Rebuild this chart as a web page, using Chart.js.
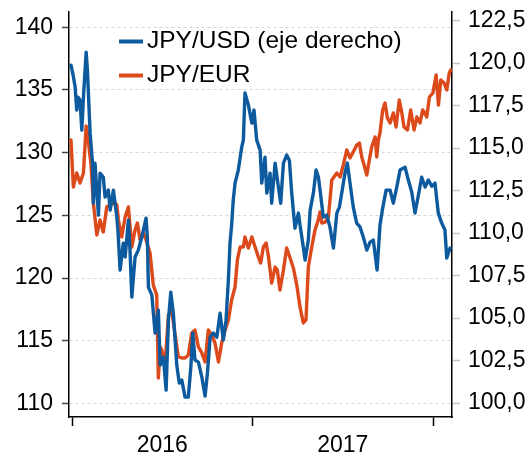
<!DOCTYPE html>
<html>
<head>
<meta charset="utf-8">
<script src="https://cdn.jsdelivr.net/npm/chart.js@4.4.1/dist/chart.umd.min.js"></script>
<style>
  body { margin: 0; background: #fff; }
</style>
</head>
<body>
<canvas id="fxChart" width="532" height="455"></canvas>
<script>
// fechas en años decimales
var usdDates = [2015.994, 2016.006, 2016.017, 2016.026, 2016.033, 2016.044, 2016.054, 2016.063, 2016.078, 2016.085,
	2016.100, 2016.115, 2016.118, 2016.127, 2016.146, 2016.155, 2016.173, 2016.183, 2016.201, 2016.211,
	2016.229, 2016.248, 2016.255, 2016.266, 2016.284, 2016.294, 2016.312, 2016.321, 2016.331, 2016.349,
	2016.367, 2016.386, 2016.410, 2016.417, 2016.423, 2016.442, 2016.460, 2016.478, 2016.488, 2016.506,
	2016.521, 2016.534, 2016.547, 2016.561, 2016.580, 2016.594, 2016.608, 2016.626, 2016.644, 2016.658,
	2016.669, 2016.681, 2016.700, 2016.719, 2016.737, 2016.750, 2016.765, 2016.783, 2016.802, 2016.820,
	2016.838, 2016.853, 2016.866, 2016.875, 2016.884, 2016.893, 2016.903, 2016.921, 2016.940, 2016.949,
	2016.958, 2016.977, 2016.996, 2017.008, 2017.023, 2017.042, 2017.051, 2017.069, 2017.079, 2017.097,
	2017.106, 2017.125, 2017.143, 2017.156, 2017.171, 2017.189, 2017.204, 2017.217, 2017.235, 2017.254,
	2017.263, 2017.281, 2017.291, 2017.309, 2017.319, 2017.337, 2017.352, 2017.365, 2017.374, 2017.384,
	2017.392, 2017.411, 2017.429, 2017.448, 2017.467, 2017.481, 2017.494, 2017.512, 2017.525, 2017.540,
	2017.558, 2017.577, 2017.596, 2017.614, 2017.633, 2017.651, 2017.669, 2017.690, 2017.706, 2017.721,
	2017.740, 2017.762, 2017.780, 2017.799, 2017.817, 2017.845, 2017.863, 2017.882, 2017.900, 2017.919,
	2017.937, 2017.956, 2017.974, 2017.993, 2018.011, 2018.021, 2018.029, 2018.048, 2018.066, 2018.076,
	2018.094];
var usdValues = [119.88, 119.29, 118.59, 117.24, 118.0, 117.82, 116.06, 118.0, 120.65, 119.59,
	115.88, 113.88, 111.76, 114.12, 111.06, 113.53, 113.29, 112.12, 112.53, 111.35,
	112.53, 110.94, 110.0, 107.82, 109.41, 108.59, 110.76, 109.0, 106.24, 108.59,
	109.0, 109.76, 110.88, 109.76, 106.82, 106.35, 104.12, 105.47, 102.24, 102.71,
	100.76, 104.88, 106.53, 105.29, 102.24, 101.18, 101.35, 100.35, 100.35, 102.12,
	104.12, 102.53, 102.41, 101.53, 100.41, 101.76, 103.88, 104.12, 103.88, 105.29,
	103.71, 104.88, 107.24, 109.41, 110.47, 111.94, 112.94, 113.71, 115.06, 115.47,
	118.24, 117.53, 116.47, 117.24, 115.47, 114.88, 112.94, 114.47, 112.35, 113.53,
	111.76, 114.12, 112.71, 111.76, 114.12, 114.59, 114.29, 112.35, 110.29, 111.18,
	110.47, 109.18, 108.41, 109.59, 111.35, 112.35, 113.71, 113.29, 112.53, 111.65,
	110.94, 111.06, 110.35, 109.12, 111.18, 111.53, 112.35, 113.53, 114.12, 112.94,
	111.53, 110.59, 110.35, 109.76, 109.0, 109.47, 109.59, 107.82, 110.47, 111.47,
	112.53, 112.53, 111.76, 112.71, 113.71, 113.88, 113.12, 112.41, 111.18, 112.24,
	113.29, 112.71, 113.12, 112.76, 112.94, 111.94, 111.18, 110.59, 110.18, 108.53,
	109.12];

var eurDates = [2015.994, 2016.007, 2016.026, 2016.044, 2016.063, 2016.078, 2016.085, 2016.104, 2016.118, 2016.137,
	2016.155, 2016.173, 2016.192, 2016.211, 2016.238, 2016.248, 2016.257, 2016.275, 2016.294, 2016.312,
	2016.331, 2016.349, 2016.362, 2016.377, 2016.395, 2016.410, 2016.432, 2016.450, 2016.469, 2016.478,
	2016.488, 2016.497, 2016.515, 2016.534, 2016.552, 2016.571, 2016.589, 2016.608, 2016.626, 2016.644,
	2016.663, 2016.681, 2016.700, 2016.719, 2016.737, 2016.755, 2016.774, 2016.792, 2016.811, 2016.829,
	2016.848, 2016.866, 2016.884, 2016.903, 2016.916, 2016.931, 2016.949, 2016.958, 2016.977, 2016.996,
	2017.014, 2017.032, 2017.045, 2017.060, 2017.075, 2017.087, 2017.106, 2017.125, 2017.137, 2017.152,
	2017.171, 2017.189, 2017.208, 2017.226, 2017.245, 2017.263, 2017.281, 2017.296, 2017.309, 2017.328,
	2017.346, 2017.364, 2017.374, 2017.384, 2017.402, 2017.420, 2017.429, 2017.439, 2017.467, 2017.485,
	2017.503, 2017.522, 2017.540, 2017.558, 2017.577, 2017.592, 2017.605, 2017.618, 2017.633, 2017.647,
	2017.660, 2017.679, 2017.688, 2017.697, 2017.706, 2017.721, 2017.734, 2017.747, 2017.762, 2017.780,
	2017.795, 2017.813, 2017.827, 2017.839, 2017.858, 2017.876, 2017.895, 2017.910, 2017.928, 2017.943,
	2017.965, 2017.980, 2017.999, 2018.017, 2018.030, 2018.043, 2018.061, 2018.076, 2018.090, 2018.098];
var eurValues = [131.01, 127.26, 128.38, 127.58, 128.38, 132.13, 131.57, 129.18, 125.99, 123.44,
	124.63, 123.68, 125.67, 125.83, 125.99, 125.83, 124.63, 123.28, 124.87, 125.67,
	122.48, 123.84, 124.39, 123.04, 123.60, 123.04, 122.0, 119.44, 118.65, 112.03,
	114.51, 114.27, 113.07, 117.06, 117.46, 115.46, 113.71, 113.63, 113.63, 113.87,
	115.62, 115.86, 114.51, 114.03, 113.31, 115.86, 115.46, 114.82, 113.31, 114.82,
	115.86, 116.66, 118.25, 119.29, 121.44, 122.48, 122.48, 123.28, 122.40, 123.28,
	122.48, 121.68, 121.20, 122.48, 122.80, 121.84, 119.61, 120.88, 120.65, 119.05,
	120.65, 122.40, 121.60, 120.81, 119.45, 117.70, 116.42, 116.66, 120.88, 122.48,
	123.84, 124.63, 125.27, 124.39, 124.47, 124.87, 126.23, 127.82, 128.38, 128.06,
	129.02, 130.22, 129.58, 130.06, 130.61, 130.77, 129.66, 129.02, 128.22, 129.42,
	130.45, 131.25, 129.66, 131.01, 131.57, 133.41, 133.96, 132.77, 132.37, 133.17,
	132.05, 134.20, 133.17, 132.05, 131.81, 133.41, 131.81, 132.85, 132.37, 133.41,
	132.85, 134.44, 134.76, 136.20, 133.80, 135.80, 135.56, 135.0, 136.36, 136.60];

var leftTicks = [110, 115, 120, 125, 130, 135, 140];
var rightTicks = [100, 102.5, 105, 107.5, 110, 112.5, 115, 117.5, 120, 122.5];
var yearTicks = [2016, 2016.5, 2017, 2017.5, 2018];
var yearLabels = { '2016.5': '2016', '2017.5': '2017' };

var fontFamily = '"Liberation Sans", Arial, sans-serif';
var tickFont = { family: fontFamily, size: 23 };

function toPoints(dates, values) {
	var pts = [];
	for (var i in dates) {
		pts.push({ x: dates[i], y: values[i] });
	}
	return pts;
}

// leyenda dentro del area del grafico
var lineLegend = {
	id: 'lineLegend',
	afterDraw: function (chart) {
		var ctx = chart.ctx;
		ctx.save();
		ctx.font = '24.5px ' + fontFamily;
		ctx.textBaseline = 'middle';
		ctx.fillStyle = '#000';
		chart.data.datasets.forEach(function (ds, i) {
			var y = 41.5 + i * 34;
			ctx.strokeStyle = ds.borderColor;
			ctx.lineWidth = 4;
			ctx.beginPath();
			ctx.moveTo(119, y);
			ctx.lineTo(143, y);
			ctx.stroke();
			ctx.fillText(ds.label, 147, y);
		});
		ctx.restore();
	}
};

new Chart(document.getElementById('fxChart'), {
	type: 'line',
	data: {
		datasets: [{
			label: 'JPY/USD (eje derecho)',
			data: toPoints(usdDates, usdValues),
			yAxisID: 'yRight',
			borderColor: '#0d5b9e'
		}, {
			label: 'JPY/EUR',
			data: toPoints(eurDates, eurValues),
			yAxisID: 'yLeft',
			borderColor: '#dc4a1c'
		}]
	},
	options: {
		responsive: false,
		animation: false,
		events: [],
		layout: { padding: { top: 12, left: 0, right: 0, bottom: 0 } },
		plugins: {
			legend: { display: false },
			tooltip: { enabled: false }
		},
		elements: {
			point: { radius: 0 },
			line: { borderWidth: 3.4, tension: 0, borderJoinStyle: 'round', borderCapStyle: 'round' }
		},
		scales: {
			x: {
				type: 'linear',
				min: 2015.983,
				max: 2018.105,
				afterBuildTicks: function (s) {
					s.ticks = yearTicks.map(function (v) { return { value: v }; });
				},
				afterFit: function (s) {
					s.height = 38;
					s.paddingLeft = 0;
					s.paddingRight = 0;
				},
				ticks: {
					autoSkip: false,
					maxRotation: 0,
					padding: 6,
					color: '#000',
					font: tickFont,
					callback: function (v) { return yearLabels[v] || ''; }
				},
				grid: {
					drawOnChartArea: false,
					tickLength: 9,
					tickWidth: 1.5,
					tickColor: function (c) {
						return (c.tick && c.tick.value % 1 === 0) ? '#000' : 'rgba(0,0,0,0)';
					}
				},
				border: { color: '#000', width: 1.5 }
			},
			yLeft: {
				type: 'linear',
				position: 'left',
				min: 108.92,
				max: 141.22,
				afterBuildTicks: function (s) {
					s.ticks = leftTicks.map(function (v) { return { value: v }; });
				},
				afterFit: function (s) {
					s.width = 69;
					s.paddingTop = 0;
					s.paddingBottom = 0;
				},
				ticks: { padding: 9, color: '#000', font: tickFont },
				grid: {
					color: '#d6d6d6',
					lineWidth: 1,
					tickLength: 7,
					tickWidth: 1.5,
					tickColor: '#444'
				},
				border: { color: '#000', width: 1.5, dash: [3, 3] }
			},
			yRight: {
				type: 'linear',
				position: 'right',
				min: 99.18,
				max: 123.01,
				afterBuildTicks: function (s) {
					s.ticks = rightTicks.map(function (v) { return { value: v }; });
				},
				afterFit: function (s) {
					s.width = 80;
					s.paddingTop = 0;
					s.paddingBottom = 0;
				},
				ticks: {
					padding: 8,
					color: '#000',
					font: tickFont,
					callback: function (v) { return v.toFixed(1).replace('.', ','); }
				},
				grid: {
					drawOnChartArea: false,
					tickLength: 8,
					tickWidth: 1.5,
					tickColor: '#c4c4c4'
				},
				border: { color: '#000', width: 1.5 }
			}
		}
	},
	plugins: [lineLegend]
});
</script>
</body>
</html>
